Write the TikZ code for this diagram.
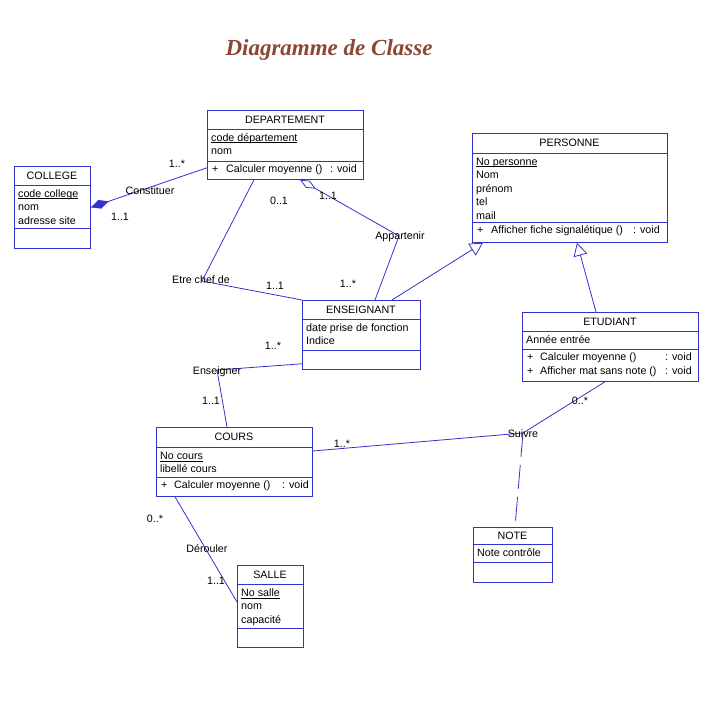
\documentclass[tikz,border=0pt]{standalone}
\usepackage{fontspec}
\setmainfont{Liberation Sans}
\newfontfamily\titlefont{Liberation Serif}
\usetikzlibrary{arrows.meta, positioning, calc}
\definecolor{umlblue}{RGB}{50,50,205}
\definecolor{titlebrown}{RGB}{140,70,50}
\newcommand{\ulattr}[1]{\underline{\smash{#1}}}

\begin{document}
\begin{tikzpicture}[x=1pt, y=-1pt,
  cls/.style={draw=umlblue, line width=0.8pt, inner sep=0, anchor=north west},
  sep/.style={umlblue, line width=0.8pt},
  txt/.style={anchor=base west, inner sep=0, font=\fontsize{10.7}{12}\selectfont},
  hdr/.style={anchor=base, inner sep=0, font=\fontsize{10.7}{12}\selectfont},
  assoc/.style={umlblue, line width=0.8pt},
  mult/.style={inner sep=0, font=\fontsize{10.7}{12}\selectfont}]
  \useasboundingbox (0,0) rectangle (712,708);

  % titre
  \node[anchor=base, inner sep=0, text=titlebrown,
    font=\titlefont\fontsize{23}{26}\selectfont\bfseries\itshape] (titre) at (329,55.5) {Diagramme de Classe};

  % DEPARTEMENT
  \node[cls, minimum width=156pt, minimum height=69pt] (dept) at (207,110) {};
  \draw[sep] (207,129) -- (363,129) (207,161) -- (363,161);
  \node[hdr] (dept-h) at (285,123.3) {DEPARTEMENT};
  \foreach \attr [count=\i] in {\ulattr{code département}, nom}
    \node[txt] (dept-a\i) at (211, {127.8+13.5*\i}) {\attr};
  \node[txt] (dept-p) at (212,172.5) {+};
  \node[txt] (dept-o) at (226,172.5) {Calculer moyenne ()};
  \node[txt] (dept-v) at (330,172.5) {: void};

  % COLLEGE
  \node[cls, minimum width=76pt, minimum height=82pt] (college) at (14,166) {};
  \draw[sep] (14,185) -- (90,185) (14,228) -- (90,228);
  \node[hdr] (college-h) at (52,179.3) {COLLEGE};
  \foreach \attr [count=\i] in {\ulattr{code college}, nom, adresse site}
    \node[txt] (college-a\i) at (18, {183.8+13.5*\i}) {\attr};

  % PERSONNE
  \node[cls, minimum width=195pt, minimum height=109pt] (pers) at (472,133) {};
  \draw[sep] (472,153) -- (667,153) (472,222) -- (667,222);
  \node[hdr] (pers-h) at (569.5,146.8) {PERSONNE};
  \foreach \attr [count=\i] in {\ulattr{No personne}, Nom, prénom, tel, mail}
    \node[txt] (pers-a\i) at (476, {151.8+13.5*\i}) {\attr};
  \node[txt] (pers-p) at (477,233.5) {+};
  \node[txt] (pers-o) at (491,233.5) {Afficher fiche signalétique ()};
  \node[txt] (pers-v) at (633,233.5) {: void};

  % ETUDIANT
  \node[cls, minimum width=176pt, minimum height=69pt] (etud) at (522,312) {};
  \draw[sep] (522,331) -- (698,331) (522,349) -- (698,349);
  \node[hdr] (etud-h) at (610,325.3) {ETUDIANT};
  \node[txt] (etud-a1) at (526,343.3) {Année entrée};
  \foreach \op/\y [count=\i] in {Calculer moyenne ()/360.5, Afficher mat sans note ()/374} {
    \node[txt] (etud-p\i) at (527,\y) {+};
    \node[txt] (etud-o\i) at (540,\y) {\op};
    \node[txt] (etud-v\i) at (665,\y) {: void};
  }

  % ENSEIGNANT
  \node[cls, minimum width=118pt, minimum height=69pt] (ens) at (302,300) {};
  \draw[sep] (302,319) -- (420,319) (302,350) -- (420,350);
  \node[hdr] (ens-h) at (361,313.3) {ENSEIGNANT};
  \foreach \attr [count=\i] in {date prise de fonction, Indice}
    \node[txt] (ens-a\i) at (306, {317.8+13.5*\i}) {\attr};

  % COURS
  \node[cls, minimum width=156pt, minimum height=69pt] (cours) at (156,427) {};
  \draw[sep] (156,447) -- (312,447) (156,477) -- (312,477);
  \node[hdr] (cours-h) at (234,440.8) {COURS};
  \foreach \attr [count=\i] in {\ulattr{No cours}, libellé cours}
    \node[txt] (cours-a\i) at (160, {445.8+13.5*\i}) {\attr};
  \node[txt] (cours-p) at (161,488.5) {+};
  \node[txt] (cours-o) at (174,488.5) {Calculer moyenne ()};
  \node[txt] (cours-v) at (282,488.5) {: void};

  % SALLE
  \node[cls, minimum width=66pt, minimum height=82pt] (salle) at (237,565) {};
  \draw[sep] (237,584) -- (303,584) (237,628) -- (303,628);
  \node[hdr] (salle-h) at (270,578.3) {SALLE};
  \foreach \attr [count=\i] in {\ulattr{No salle}, nom, capacité}
    \node[txt] (salle-a\i) at (241, {582.8+13.5*\i}) {\attr};

  % NOTE
  \node[cls, minimum width=79pt, minimum height=55pt] (note) at (473,527) {};
  \draw[sep] (473,544) -- (552,544) (473,562) -- (552,562);
  \node[hdr] (note-h) at (512.5,539.3) {NOTE};
  \node[txt] (note-a1) at (477,556.5) {Note contrôle};

  % Constituer
  \draw[assoc, {Diamond[length=19pt, width=9pt]}-] (college.east) -- ($(dept.south west)+(0,-12)$);
  \node[mult] (constituer) at (150,191) {Constituer};
  \node[mult] (constituer-m1) at (177,164) {1..*};
  \node[mult] (constituer-m2) at (120,217) {1..1};

  % Etre chef de
  \coordinate (chef) at (202,281);
  \draw[assoc] ($(dept.south west)+(47,0)$) -- (chef) -- (ens.north west);
  \node[mult] (chef-l) at (201,280) {Etre chef de};
  \node[mult] (chef-m1) at (279,201) {0..1};
  \node[mult] (chef-m2) at (275,286) {1..1};

  % Appartenir
  \coordinate (appart) at (399,236);
  \draw[assoc, {Diamond[open, length=18pt, width=8pt]}-] ($(dept.south west)+(93,0)$) -- (appart) -- ($(ens.north west)+(73,0)$);
  \node[mult] (appart-l) at (400,237) {Appartenir};
  \node[mult] (appart-m1) at (328,196) {1..1};
  \node[mult] (appart-m2) at (348,284) {1..*};

  % heritage
  \draw[assoc, -{Triangle[open, length=13pt, width=14pt]}] ($(ens.north west)+(90,0)$) -- ($(pers.south west)+(11,0)$);
  \draw[assoc, -{Triangle[open, length=13pt, width=14pt]}] ($(etud.north west)+(74,0)$) -- ($(pers.south west)+(105,0)$);

  % Enseigner
  \coordinate (enseig) at (217,370);
  \draw[assoc] ($(ens.south west)+(0,-6)$) -- (enseig) -- ($(cours.north west)+(71,0)$);
  \node[mult] (enseig-l) at (217,372) {Enseigner};
  \node[mult] (enseig-m1) at (273,346) {1..*};
  \node[mult] (enseig-m2) at (211,401) {1..1};

  % Suivre
  \coordinate (suivre) at (523,433);
  \draw[assoc] ($(cours.north east)+(0,24)$) -- (suivre) -- ($(etud.south west)+(83,0)$);
  \draw[assoc, dash pattern=on 24pt off 8pt] (suivre) -- ($(note.north west)+(42,0)$);
  \node[mult] (suivre-l) at (523,434) {Suivre};
  \node[mult] (suivre-m1) at (342,444) {1..*};
  \node[mult] (suivre-m2) at (580,401) {0..*};

  % Derouler
  \draw[assoc] ($(cours.south west)+(19,0)$) -- ($(salle.north west)+(0,37)$);
  \node[mult] (derouler-l) at (207,549) {Dérouler};
  \node[mult] (derouler-m1) at (155,519) {0..*};
  \node[mult] (derouler-m2) at (216,581) {1..1};
\end{tikzpicture}
\end{document}
